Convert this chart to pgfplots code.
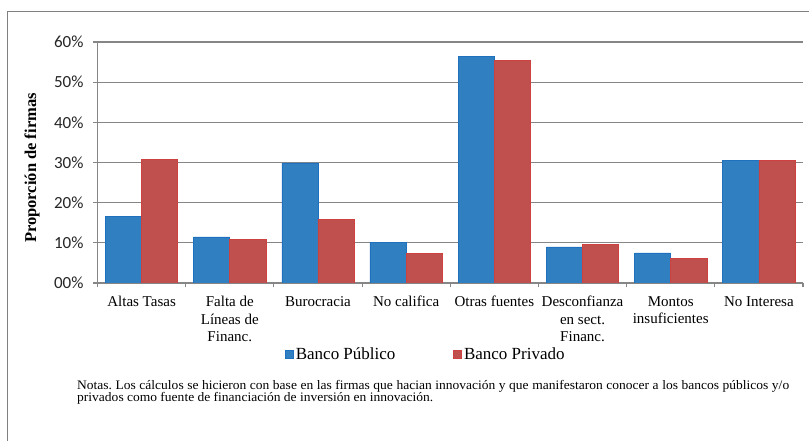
\documentclass[border=0pt]{standalone}
\usepackage{fontspec}
\setmainfont{Liberation Serif}
\newfontfamily\lserif{Liberation Serif}
\newfontfamily\notefont[FakeStretch=1.04]{Liberation Serif}
\newfontfamily\carlito{Carlito}
\usepackage{pgfplots}
\pgfplotsset{compat=1.18}
\definecolor{bpub}{RGB}{47,127,193}
\definecolor{bpubd}{RGB}{32,112,192}
\definecolor{bpri}{RGB}{192,80,77}
\definecolor{bprid}{RGB}{205,65,65}
\definecolor{gridg}{RGB}{134,134,134}
\definecolor{frameg}{RGB}{128,128,128}
\begin{document}
\frenchspacing
\begin{tikzpicture}[x=1pt,y=1pt]
\useasboundingbox (0,0) rectangle (809,441);
\fill[white] (0,0) rectangle (809,441);
\draw[frameg, line width=1.2pt] (7.3,0) -- (7.3,429.3) -- (809,429.3);
\begin{axis}[
  at={(97.5pt,158pt)}, anchor=south west,
  width=705.5pt, height=241pt, scale only axis,
  ymin=0, ymax=0.6, xmin=-0.5, xmax=7.5,
  ybar=0pt, bar width=0.41,
  axis x line*=bottom, axis y line*=left,
  axis line style={gridg, line width=1.1pt},
  ymajorgrids, grid style={gridg, line width=1.1pt},
  tick align=outside, major tick length=4.5pt,
  tick style={gridg, line width=1.1pt},
  ytick={0,0.1,0.2,0.3,0.4,0.5,0.6},
  yticklabels={00\%,10\%,20\%,30\%,40\%,50\%,60\%},
  yticklabel style={font={\carlito\fontsize{17}{20}\selectfont}, text=black!85, xshift=-6pt},
  xtick={-0.5,0.5,1.5,2.5,3.5,4.5,5.5,6.5,7.5},
  xticklabels={},
  extra x ticks={0,1,2,3,4,5,6,7},
  extra x tick labels={Altas Tasas,{Falta de\\Líneas de\\Financ.},Burocracia,No califica,Otras fuentes,{Desconfianza\\en sect.\\Financ.},{Montos\\insuficientes},No Interesa},
  extra x tick style={major tick length=0pt, grid=none,
     tick label style={font={\lserif\fontsize{15}{17.5}\selectfont}, align=center, anchor=north, inner sep=0pt, yshift=-13pt}},
  ylabel={Proporción de firmas},
  ylabel style={font={\lserif\bfseries\fontsize{16.5}{18}\selectfont}, at={(axis description cs:-0.0928,0.477)}, anchor=center},
  legend columns=2,
  legend style={at={(axis description cs:0.2658,-0.2946)}, anchor=west, draw=none, fill=none,
     font={\lserif\fontsize{17}{20}\selectfont}, inner sep=0pt,
     /tikz/every even column/.append style={column sep=56pt}},
  legend image code/.code={\fill[#1] (0pt,-4pt) rectangle (8pt,4pt);},
]
\addplot[fill=bpub, draw=bpubd, line width=0.6pt] coordinates {
 (0,0.165) (1,0.115) (2,0.299) (3,0.102) (4,0.564) (5,0.090) (6,0.075) (7,0.305)};
\addplot[fill=bpri, draw=bprid, line width=0.6pt] coordinates {
 (0,0.307) (1,0.109) (2,0.158) (3,0.074) (4,0.555) (5,0.096) (6,0.062) (7,0.305)};
\legend{Banco Público,Banco Privado}
\end{axis}
\node[anchor=base west, inner sep=0pt, font={\notefont\fontsize{13}{12}\selectfont}] at (77,51)
  {\makebox[712pt][s]{Notas. Los cálculos se hicieron con base en las firmas que hacian innovación y que manifestaron conocer a los bancos públicos y/o}};
\node[anchor=base west, inner sep=0pt, font={\notefont\fontsize{13}{12}\selectfont}] at (77,39)
  {\makebox[356pt][s]{privados como fuente de financiación de inversión en innovación.}};
\end{tikzpicture}
\end{document}
